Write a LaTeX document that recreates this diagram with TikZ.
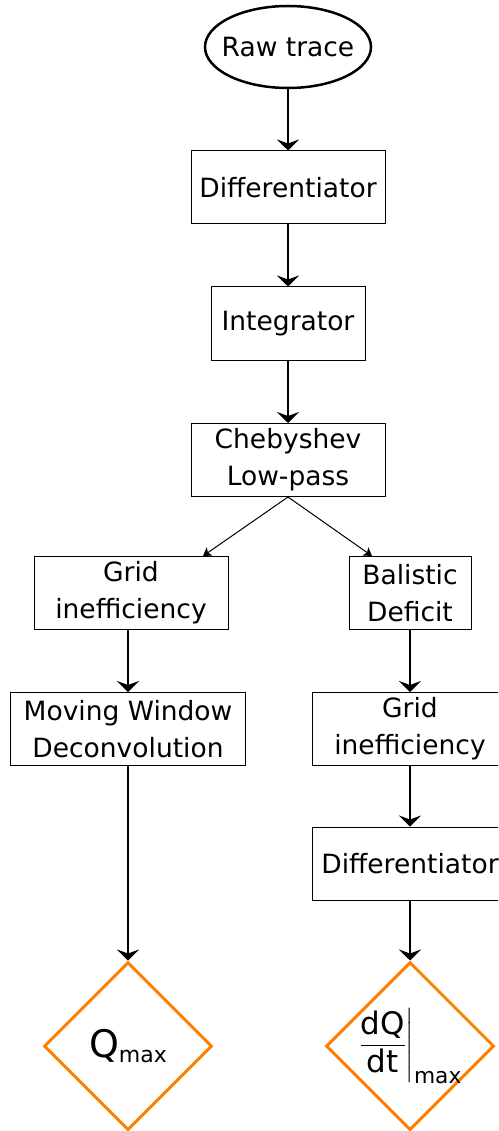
\documentclass[tikz,border=0pt]{standalone}
\usepackage{fontspec}
\setmainfont{DejaVu Sans}
\usepackage{amsmath}
\usetikzlibrary{positioning,arrows.meta,calc,shapes.geometric}
\definecolor{flag}{HTML}{FF7F00}

\tikzset{
  stage/.style={draw=black,line width=1pt,align=center,inner sep=0pt,minimum height=73pt,font=\fontsize{26.5}{37}\selectfont},
  result/.style={diamond,draw=flag,line width=3pt,minimum width=168pt,minimum height=168pt,inner sep=0pt},
  flow/.style={line width=2pt,-{Stealth[length=11pt,width=22pt,inset=4pt]}},
  split/.style={line width=1pt,-{Stealth[length=8pt,width=10pt,inset=2pt]}}
}

\begin{document}
\begin{tikzpicture}[x=1pt,y=-1pt]
\useasboundingbox (0,0) rectangle (498,1131);
\clip (0,0) rectangle (498,1131);
\node[ellipse,draw,line width=2.5pt,minimum width=166pt,minimum height=82pt,inner sep=0pt,font=\fontsize{26.5}{37}\selectfont] (raw) at (288,47) {\makebox[0pt]{Raw trace}};
\node[stage,minimum width=194pt] (diff) at (288,187.5) {Differentiator};
\node[stage,minimum width=154pt] (integ) at (288,323.5) {Integrator};
\node[stage,minimum width=194pt] (cheb) at (288,460) {Chebyshev\\Low-pass};
\node[stage,minimum width=194pt] (gridl) at (131,593) {Grid\\inefficiency};
\node[stage,minimum width=122pt] (balistic) at (410,593) {Balistic\\Deficit};
\node[stage,minimum width=235pt] (mwd) at (128,729) {Moving Window\\Deconvolution};
\node[stage,minimum width=196pt] (gridr) at (410,729) {Grid\\inefficiency};
\node[stage,minimum width=196pt] (diffr) at (410,863.5) {Differentiator};
\node[result] (qmax) at (128,1046) {\makebox[0pt]{\fontsize{38}{40}\selectfont Q\raisebox{-5pt}{\fontsize{22}{24}\selectfont max}}};
\node[result] (dqdt) at (410,1046) {\makebox[0pt]{\fontsize{31}{34}\selectfont$\displaystyle\left.\frac{\text{dQ}}{\text{dt}}\right|_{\text{max}}$}};

\draw[flow] (raw) -- (diff);
\draw[flow] (diff) -- (integ);
\draw[flow] (integ) -- (cheb);
\draw[split] (cheb.south) -- ($(gridl.north)+(72,0)$);
\draw[split] (cheb.south) -- ($(balistic.north)+(-38,0)$);
\draw[flow] (gridl.south -| mwd.north) -- (mwd.north);
\draw[flow] (mwd) -- (qmax);
\draw[flow] (balistic) -- (gridr);
\draw[flow] (gridr) -- (diffr);
\draw[flow] (diffr) -- (dqdt);
\end{tikzpicture}
\end{document}
